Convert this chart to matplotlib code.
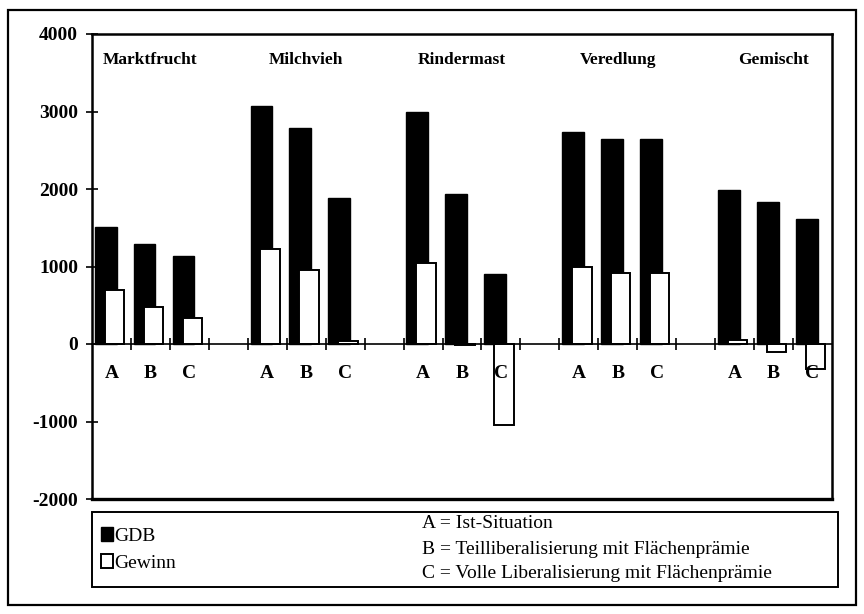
import numpy as np
import matplotlib.pyplot as plt
from matplotlib.patches import Rectangle, Patch

plt.rcParams['font.family'] = ['Liberation Serif', 'DejaVu Serif']

# data
groups = ["Marktfrucht", "Milchvieh", "Rindermast", "Veredlung", "Gemischt"]
scenarios = ["A", "B", "C"]
gdb = [1510, 1290, 1130,
       3070, 2790, 1880,
       3000, 1930, 900,
       2730, 2650, 2650,
       1990, 1830, 1610]
gewinn = [700, 480, 330,
          1220, 950, 40,
          1050, -15, -1040,
          1000, 920, 920,
          50, -100, -320]
yticks = [-2000, -1000, 0, 1000, 2000, 3000, 4000]
legend_notes = ["A = Ist-Situation",
                "B = Teilliberalisierung mit Flächenprämie",
                "C = Volle Liberalisierung mit Flächenprämie"]

# slot positions: 3 bars per group plus one empty slot between groups
pos = np.array([g * 4 + i for g in range(len(groups)) for i in range(3)])
nslots = len(groups) * 4 - 1

fig = plt.figure(figsize=(8.64, 6.14), dpi=100)
ax = fig.add_axes([92 / 864, 115 / 614, 740 / 864, 465 / 614])
ax.set_axisbelow(False)  # keep the A/B/C labels on top of the bars

ax.bar(pos - 0.15, gdb, width=0.56, color="black", edgecolor="black", lw=1, zorder=1.5)
ax.bar(pos + 0.075, gewinn, width=0.5, color="white", edgecolor="black", lw=1.4, zorder=1.6)

ax.set_xlim(-0.5, nslots - 0.5)
ax.set_ylim(-2000, 4000)
ax.set_yticks(yticks)
ax.set_yticklabels([str(v) for v in yticks], fontsize=14, fontweight="bold")
ax.tick_params(axis="y", direction="inout", length=8, width=1.2, pad=6)

# category axis at zero
ax.spines["bottom"].set_position(("data", 0))
ax.set_xticks(np.arange(0.5, nslots - 0.5, 1.0))
ax.set_xticklabels([])
ax.set_xticks(pos, minor=True)
ax.set_xticklabels(scenarios * len(groups), minor=True, fontsize=14, fontweight="bold")
ax.tick_params(axis="x", which="major", direction="inout", length=9, width=1.2)
ax.tick_params(axis="x", which="minor", length=0, pad=15)
ax.axhline(-2000, color="black", lw=2.4, clip_on=False, zorder=5)
for s in ["left", "top", "right"]:
    ax.spines[s].set_linewidth(1.8)
ax.spines["bottom"].set_linewidth(1.2)

for g, name in enumerate(groups):
    ax.text(g * 4 + 1, 3660, name, ha="center", va="center", fontsize=12.5, fontweight="bold")

# legend box below plot
fig.patches.append(Rectangle((92 / 864, 27 / 614), 746 / 864, 75 / 614, transform=fig.transFigure,
                             fill=False, edgecolor="black", lw=1.4))
handles = [Patch(facecolor="black", edgecolor="black"),
           Patch(facecolor="white", edgecolor="black", lw=1.4)]
fig.legend(handles, ["GDB", "Gewinn"], loc="upper left", bbox_to_anchor=(101 / 864, 87 / 614),
           frameon=False, fontsize=14, handlelength=0.6, handleheight=0.75, handletextpad=0.1,
           labelspacing=0.45, borderpad=0, borderaxespad=0)
for i, note in enumerate(legend_notes):
    fig.text(422 / 864, (614 - 524 - i * 25) / 614, note, ha="left", va="center", fontsize=14)

# outer frame
fig.patches.append(Rectangle((8 / 864, 9 / 614), 848 / 864, 595 / 614, transform=fig.transFigure,
                             fill=False, edgecolor="black", lw=1.6))

fig.savefig("out.png", dpi=100)
